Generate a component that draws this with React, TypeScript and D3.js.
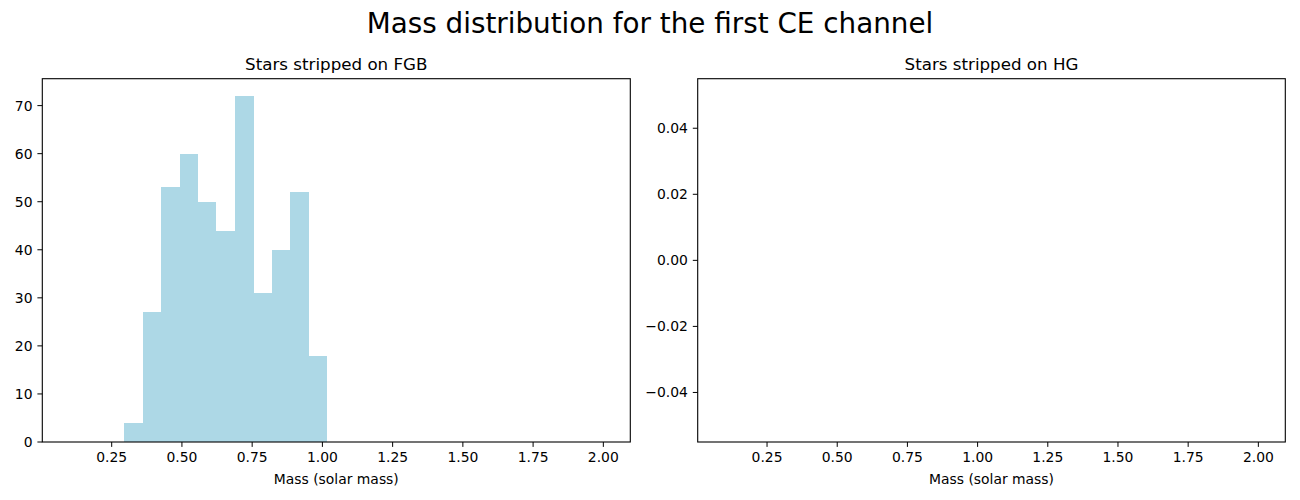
// @ts-nocheck
import * as d3 from "d3"
import { useEffect, useRef } from "react"
import * as React from "react"

// histogram of the FGB channel (bin edges in solar mass, counts per bin)
const fgbBinEdges = [0.295, 0.361, 0.426, 0.492, 0.558, 0.623, 0.689, 0.755, 0.820, 0.886, 0.951, 1.017]
const fgbCounts = [4, 27, 53, 60, 50, 44, 72, 31, 40, 52, 18]

// HG channel is empty
const hgCounts: number[] = []

const massTicks = [0.25, 0.5, 0.75, 1.0, 1.25, 1.5, 1.75, 2.0]
const fgbCountTicks = [0, 10, 20, 30, 40, 50, 60, 70]
const hgTicks = [-0.04, -0.02, 0.0, 0.02, 0.04]

const massDomain = [0.003, 2.096]

const suptitle = "Mass distribution for the first CE channel"
const panelTitles = ["Stars stripped on FGB", "Stars stripped on HG"]
const xLabel = "Mass (solar mass)"

const FONT = "DejaVu Sans, sans-serif"
const BAR = "#add8e6"

function fmtY(v: number, digits: number) {
  const s = v.toFixed(digits)
  return v < 0 ? "\u2212" + s.slice(1) : s
}

function drawPanel(svg, left, right, title, yDomain, yTicks, yDigits, counts, edges) {
  const top = 78.7
  const bottom = 442
  const x = d3.scaleLinear().domain(massDomain).range([left, right])
  const y = d3.scaleLinear().domain(yDomain).range([bottom, top])
  const g = svg.append("g")

  g.selectAll("rect.bar")
    .data(counts)
    .join("rect")
    .attr("class", "bar")
    .attr("x", (d, i) => x(edges[i]))
    .attr("width", (d, i) => x(edges[i + 1]) - x(edges[i]))
    .attr("y", d => y(d))
    .attr("height", d => y(0) - y(d))
    .attr("fill", BAR)
    .attr("shape-rendering", "crispEdges")

  // x ticks
  const xt = g.append("g")
  xt.selectAll("line")
    .data(massTicks)
    .join("line")
    .attr("x1", d => x(d)).attr("x2", d => x(d))
    .attr("y1", bottom).attr("y2", bottom + 4.9)
    .attr("stroke", "#000").attr("stroke-width", 1)
  xt.selectAll("text")
    .data(massTicks)
    .join("text")
    .attr("x", d => x(d))
    .attr("y", bottom + 19.8)
    .attr("text-anchor", "middle")
    .style("font-family", FONT)
    .style("font-size", "13.9px")
    .text(d => d.toFixed(2))

  // y ticks
  const yt = g.append("g")
  yt.selectAll("line")
    .data(yTicks)
    .join("line")
    .attr("x1", left - 4.9).attr("x2", left)
    .attr("y1", d => y(d)).attr("y2", d => y(d))
    .attr("stroke", "#000").attr("stroke-width", 1)
  yt.selectAll("text")
    .data(yTicks)
    .join("text")
    .attr("x", left - 9.8)
    .attr("y", d => y(d))
    .attr("dy", "0.36em")
    .attr("text-anchor", "end")
    .style("font-family", FONT)
    .style("font-size", "13.9px")
    .text(d => fmtY(d, yDigits))

  g.append("rect")
    .attr("x", left).attr("y", top)
    .attr("width", right - left).attr("height", bottom - top)
    .attr("fill", "none").attr("stroke", "#000").attr("stroke-width", 1.1)

  g.append("text")
    .attr("x", (left + right) / 2)
    .attr("y", top - 8.3)
    .attr("text-anchor", "middle")
    .style("font-family", FONT)
    .style("font-size", "16.7px")
    .text(title)

  g.append("text")
    .attr("x", (left + right) / 2)
    .attr("y", 483.5)
    .attr("text-anchor", "middle")
    .style("font-family", FONT)
    .style("font-size", "13.9px")
    .text(xLabel)
}

function buildSVG() {
  const svg = d3.create("svg")
    .attr("width", 1300)
    .attr("height", 500)
    .style("position", "absolute")
    .style("left", "0px")
    .style("top", "0px")
    .style("background", "#fff")

  svg.append("text")
    .attr("x", 650)
    .attr("y", 33)
    .attr("text-anchor", "middle")
    .style("font-family", FONT)
    .style("font-size", "27.8px")
    .text(suptitle)

  drawPanel(svg, 42.3, 630.3, panelTitles[0], [0, 75.6], fgbCountTicks, 0, fgbCounts, fgbBinEdges)
  drawPanel(svg, 697.7, 1285.3, panelTitles[1], [-0.055, 0.055], hgTicks, 2, hgCounts, [])
  return svg
}

export default function App() {
  const ref = useRef<HTMLDivElement>(null)
  useEffect(() => {
    const svg = buildSVG()
    const el = ref.current
    while (el.hasChildNodes()) el.removeChild(el.lastChild)
    el.append(svg.node())
  }, [])
  return <div ref={ref} />
}
